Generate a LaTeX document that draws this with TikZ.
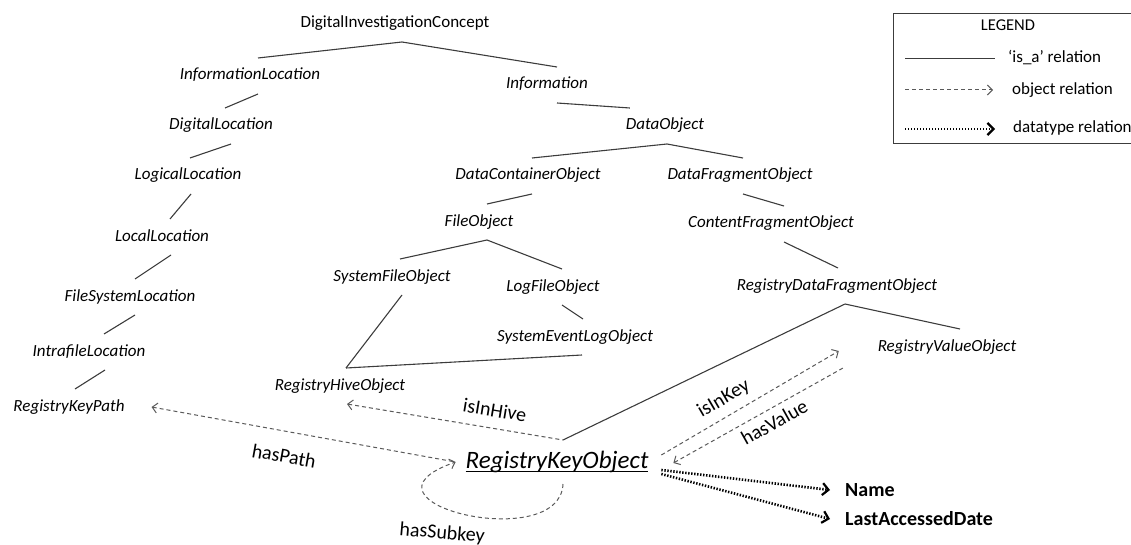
\documentclass[tikz,border=0pt]{standalone}
\usepackage{fontspec}
\setmainfont{Carlito}
\usetikzlibrary{arrows.meta}
\usetikzlibrary{positioning,calc}
\usepackage{xcolor}
\definecolor{isagray}{HTML}{3C3C3C}
\definecolor{objgray}{HTML}{5A5A5A}
\newcommand{\wordul}[1]{\setbox0\hbox{#1}\rlap{\rule[-4pt]{\wd0}{1.1pt}}\box0}

\begin{document}
\begin{tikzpicture}[x=1pt,y=-1pt,
    isa/.style={draw=isagray,line width=1.1pt},
    objrel/.style={draw=objgray,line width=1pt,dash pattern=on 4pt off 3pt,>={Straight Barb[length=5pt,width=10pt]}},
    datarel/.style={draw=black,line width=2.6pt,dash pattern=on 1.4pt off 1.6pt,>={Straight Barb[length=6pt,width=12pt,line width=2.2pt]}},
    rellabel/.style={font=\fontsize{20}{24}\selectfont,inner sep=0pt,text height=14pt,text depth=4pt}]
  \clip (0,0) rectangle (1131,545);

      \begin{scope}[inner sep=0pt,outer sep=10pt,text height=12pt,text depth=4pt]
          \tikzstyle{every node}=[font=\fontsize{17}{20}\selectfont\itshape]
          \node (dic)   at (395,24)  {\upshape DigitalInvestigationConcept};
          \node (il)    at (250,76)  {InformationLocation};
          \node (info)  at (547,85)  {Information};
          \node (dl)    at (221,126) {DigitalLocation};
          \node (dobj)  at (665,126) {DataObject};
          \node (logl)  at (188,176) {LogicalLocation};
          \node (locl)  at (162,237) {LocalLocation};
          \node (fsl)   at (130,297) {FileSystemLocation};
          \node (ifl)   at (89,352)  {IntrafileLocation};
          \node (rkp)   at (69,407)  {RegistryKeyPath};
          \node (dco)   at (528,176) {DataContainerObject};
          \node (dfo)   at (740,176) {DataFragmentObject};
          \node (fo)    at (479,222) {FileObject};
          \node (cfo)   at (771,224) {ContentFragmentObject};
          \node (sfo)   at (392,277) {SystemFileObject};
          \node (lfo)   at (553,287) {LogFileObject};
          \node (selo)  at (575,337) {SystemEventLogObject};
          \node (rho)   at (340,386) {RegistryHiveObject};
          \node (rdfo)  at (837,286) {RegistryDataFragmentObject};
          \node (rvo)   at (947,347) {RegistryValueObject};
          \node[font=\fontsize{25}{30}\selectfont\itshape,text height=18pt,text depth=6pt]
                (rko)   at (557,462) {\wordul{RegistryKeyObject}};
      \end{scope}

      \begin{scope}[inner sep=0pt,anchor=west,font=\fontsize{20}{24}\selectfont\bfseries]
          \node (name) at (845,490) {Name};
          \node (lad)  at (845,519) {LastAccessedDate};
      \end{scope}

      % is_a tree
      \draw[isa] ([xshift=7pt]dic.south)   -- ([xshift=8pt]il.north);
      \draw[isa] ([xshift=7pt]dic.south)   -- ([xshift=10pt]info.north);
      \draw[isa] ([xshift=8pt]il.south)    -- ([xshift=4pt]dl.north);
      \draw[isa] ([xshift=10pt]info.south) -- ([xshift=14pt]dobj.north west);
      \draw[isa] ([xshift=10pt]dl.south)   -- ([xshift=2pt]logl.north);
      \draw[isa] ([xshift=3pt]logl.south)  -- ([xshift=8pt]locl.north);
      \draw[isa] ([xshift=9pt]locl.south)  -- ([xshift=5pt]fsl.north);
      \draw[isa] ([xshift=5pt]fsl.south)   -- ([xshift=15pt]ifl.north);
      \draw[isa] ([xshift=16pt]ifl.south)  -- ([xshift=6pt]rkp.north);
      \draw[isa] ([xshift=2pt]dobj.south)  -- ([xshift=4pt]dco.north);
      \draw[isa] ([xshift=2pt]dobj.south)  -- ([xshift=3pt]dfo.north);
      \draw[isa] ([xshift=4pt]dco.south)   -- ([xshift=8pt]fo.north);
      \draw[isa] ([xshift=3pt]dfo.south)   -- ([xshift=13pt]cfo.north);
      \draw[isa] ([xshift=8pt]fo.south)    -- ([xshift=8pt]sfo.north);
      \draw[isa] ([xshift=8pt]fo.south)    -- ([xshift=9pt]lfo.north);
      \draw[isa] ([xshift=9pt]lfo.south)   -- ([xshift=8pt]selo.north);
      \draw[isa] ([xshift=13pt]cfo.south)  -- ([xshift=1pt]rdfo.north);
      \draw[isa] ([xshift=10pt]sfo.south)  -- ([xshift=6pt]rho.north);
      \draw[isa] ([xshift=7pt]selo.south)  -- ([xshift=6pt]rho.north);
      \draw[isa] ([xshift=8pt]rdfo.south)  -- ([xshift=13pt]rvo.north);
      \draw[isa] ([xshift=8pt]rdfo.south)  -- ([xshift=6pt]rko.north);

      % object relations
      \draw[objrel,<-] ([xshift=17pt]rkp.east) -- node[rellabel,pos=0.45,sloped,below=17pt] {hasPath} (rko.west);
      \draw[objrel,<-] ([xshift=7pt]rho.south) -- node[rellabel,pos=0.67,sloped,above=7pt] {isInHive} ([xshift=6pt]rko.north);
      \draw[objrel,->] ($(rko.east)+(3,-7)$) -- node[rellabel,pos=0.4,sloped,above=7pt] {isInKey} ($(rvo.west)+(-29,4)$);
      \draw[objrel,<-] ($(rko.east)+(15,1)$) -- node[rellabel,pos=0.55,sloped,below=6pt] {hasValue} ($(rvo.west)+(-23,20)$);
      \draw[objrel,->] ([xshift=6pt]rko.south) .. controls +(-3,71) and +(-115,40) .. (rko.west)
            node[rellabel,pos=0.6,below=17pt,rotate=-5] {hasSubkey};

      % datatype relations
      \draw[datarel,->] ($(rko.east)+(3,8)$)  -- ($(name.west)+(-15,0)$);
      \draw[datarel,->] ($(rko.east)+(3,12)$) -- ($(lad.west)+(-15,0)$);

      % legend
      \draw[draw=isagray,line width=0.9pt] (893,13) rectangle (1145,143);
      \node[font=\fontsize{16.5}{20}\selectfont] (legtitle) at (1008,25) {LEGEND};
      \coordinate (isaA) at (905,59);  \coordinate (isaB) at (995,59);
      \coordinate (objA) at (905,90);  \coordinate (objB) at (993,90);
      \coordinate (datA) at (905,129); \coordinate (datB) at (995,129);
      \draw[isa,line width=1pt] (isaA) -- (isaB);
      \draw[objrel,->] (objA) -- (objB);
      \draw[datarel,->] (datA) -- (datB);
      \begin{scope}[inner sep=0pt,anchor=west,font=\fontsize{17}{20}\selectfont]
          \node (isatext) at (1008,58)  {`is\_a' relation};
          \node (objtext) at (1012,90)  {object relation};
          \node (dattext) at (1013,128) {datatype relation};
      \end{scope}
  \end{tikzpicture}
\end{document}
